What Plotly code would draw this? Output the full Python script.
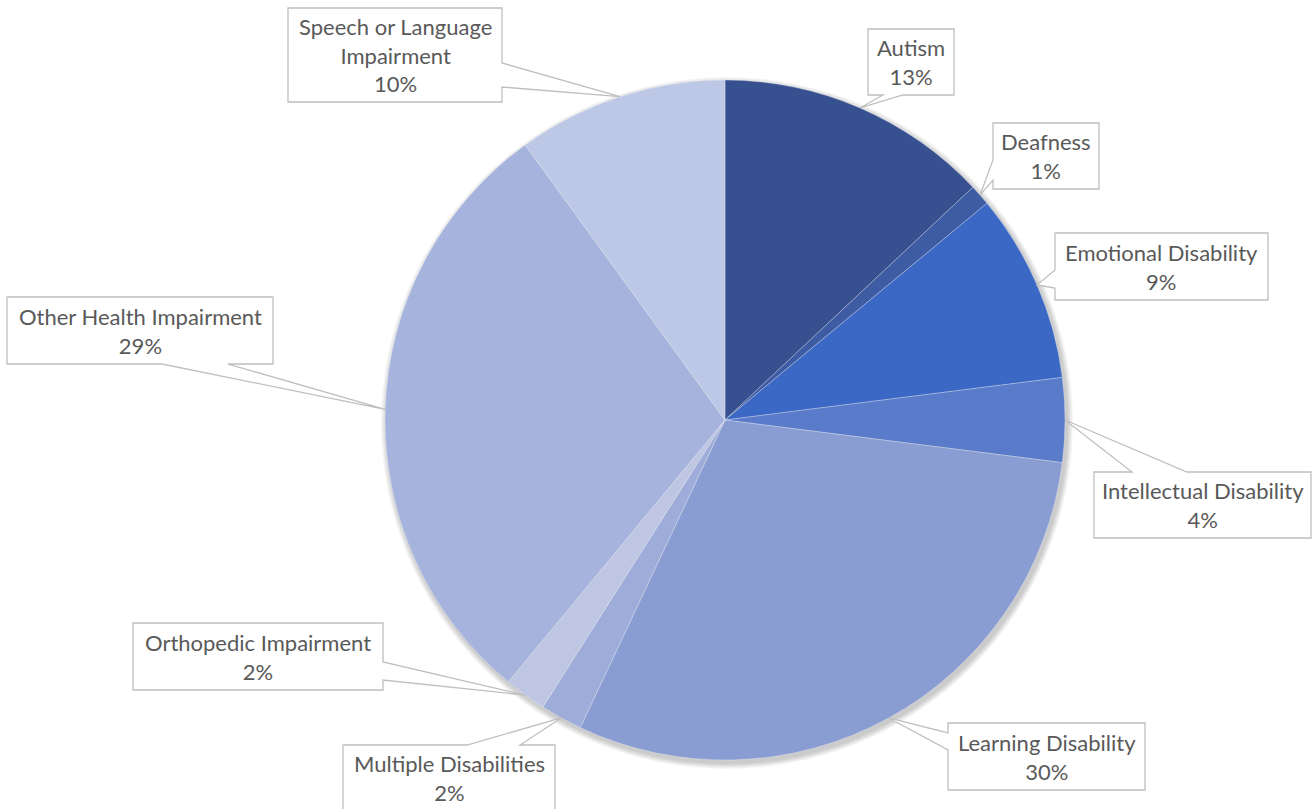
import math
import plotly.graph_objects as go

W, H = 1313, 809

# Share of students by disability category (percent)
categories = [
    "Autism", "Deafness", "Emotional Disability", "Intellectual Disability",
    "Learning Disability", "Multiple Disabilities", "Orthopedic Impairment",
    "Other Health Impairment", "Speech or Language Impairment",
]
values = [13, 1, 9, 4, 30, 2, 2, 29, 10]
label_text = [
    "Autism", "Deafness", "Emotional Disability", "Intellectual Disability",
    "Learning Disability", "Multiple Disabilities", "Orthopedic Impairment",
    "Other Health Impairment", "Speech or Language<br>Impairment",
]
colors = ["#37508f", "#3e5ca4", "#3b68c4", "#5a7bca", "#8a9dd3",
          "#9eacd9", "#bec6e3", "#a6b3dc", "#bdc7e6"]

# Pie geometry in pixels
CX, CY, R = 725, 420, 340

# Callout boxes: (x0, y0, x1, y1), side carrying the pointer, pointer base span
callouts = [
    ((868, 29, 954, 95), "bottom", (883, 903)),
    ((993, 123, 1099, 189), "left", (160, 180)),
    ((1055, 233, 1268, 300), "left", (270, 288)),
    ((1094, 472, 1311, 538), "top", (1132, 1187)),
    ((948, 723, 1145, 790), "left", (733, 750)),
    ((343, 745, 555, 812), "top", (467, 520)),
    ((133, 623, 383, 690), "right", (662, 680)),
    ((7, 297, 273, 364), "bottom", (162, 228)),
    ((288, 8, 502, 102), "right", (63, 87)),
]


def px(x, y):
    return x / W, 1 - y / H


def callout_path(box, side, span, tip):
    x0, y0, x1, y1 = box
    b1, b2 = span
    pts = [(x0, y0)]
    if side == "top":
        pts += [(b1, y0), tip, (b2, y0)]
    pts.append((x1, y0))
    if side == "right":
        pts += [(x1, b1), tip, (x1, b2)]
    pts.append((x1, y1))
    if side == "bottom":
        pts += [(b2, y1), tip, (b1, y1)]
    pts.append((x0, y1))
    if side == "left":
        pts += [(x0, b2), tip, (x0, b1)]
    coords = [px(*p) for p in pts]
    return "M " + " L ".join(f"{a:.5f},{b:.5f}" for a, b in coords) + " Z"


fig = go.Figure()
fig.add_trace(go.Pie(
    labels=categories,
    values=values,
    sort=False,
    direction="clockwise",
    rotation=0,
    textinfo="none",
    hoverinfo="label+percent",
    marker=dict(colors=colors, line=dict(color="rgba(255,255,255,0.35)", width=0.8)),
    domain=dict(x=[(CX - R) / W, (CX + R) / W], y=[1 - (CY + R) / H, 1 - (CY - R) / H]),
    showlegend=False,
))

shapes = []
# soft drop shadow under the pie
for i in range(6):
    rr = R + 6 - i
    dx, dy = 2, 3
    a0, b0 = px(CX - rr + dx, CY - rr + dy)
    a1, b1 = px(CX + rr + dx, CY + rr + dy)
    shapes.append(dict(type="circle", xref="paper", yref="paper", layer="below",
                       x0=a0, y0=b1, x1=a1, y1=b0,
                       fillcolor="rgba(0,0,0,0.035)", line=dict(width=0)))

annotations = []
total = sum(values)
cum = 0.0
for name, txt, v, (box, side, span) in zip(categories, label_text, values, callouts):
    mid = (cum + v / 2) / total * 2 * math.pi
    cum += v
    tip = (CX + R * math.sin(mid), CY - R * math.cos(mid))
    shapes.append(dict(type="path", xref="paper", yref="paper", layer="above",
                       path=callout_path(box, side, span, tip),
                       fillcolor="white", line=dict(color="#bfbfbf", width=1.3)))
    x0, y0, x1, y1 = box
    ax, ay = px((x0 + x1) / 2, (y0 + min(y1, H + 2)) / 2)
    pct = round(v / total * 100)
    annotations.append(dict(xref="paper", yref="paper", x=ax, y=ay,
                            text=f"{txt}<br>{pct}%", showarrow=False,
                            xanchor="center", yanchor="middle",
                            font=dict(family="Lato", size=22, color="#595959")))

fig.update_layout(
    width=W, height=H,
    margin=dict(l=0, r=0, t=0, b=0),
    paper_bgcolor="white",
    plot_bgcolor="white",
    shapes=shapes,
    annotations=annotations,
)

fig.write_html("out.html")
